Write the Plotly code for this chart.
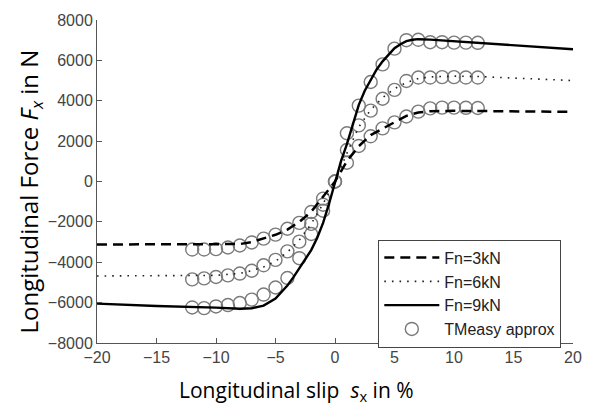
import plotly.graph_objects as go

# ---- data ----
s_circ = [-12, -11, -10, -9, -8, -7, -6, -5, -4, -3, -2, -1, 0,
          1, 2, 3, 4, 5, 6, 7, 8, 9, 10, 11, 12]
tm_3kN = [-3370, -3370, -3350, -3270, -3170, -3020, -2830, -2630, -2340, -2050, -1510, -850, 0,
          930, 1760, 2240, 2630, 2930, 3220, 3460, 3620, 3660, 3660, 3650, 3640]
tm_6kN = [-4850, -4800, -4730, -4650, -4560, -4420, -4150, -3880, -3460, -2980, -2100, -1150, 0,
          1560, 2780, 3510, 4100, 4540, 4980, 5150, 5150, 5170, 5170, 5150, 5150]
tm_9kN = [-6240, -6270, -6190, -6120, -6020, -5850, -5600, -5250, -4780, -3800, -2600, -1450, 0,
          2390, 3760, 4930, 5800, 6580, 7000, 7020, 6900, 6900, 6880, 6880, 6870]

s_3kN = [-20, -10, -8, -7, -6, -5, -4, -3, -2, -1, 0, 1, 2, 3, 4, 5, 6, 7, 8, 10, 12, 15, 20]
f_3kN = [-3120, -3120, -3100, -3000, -2830, -2640, -2380, -2000, -1500, -750, 0,
         1000, 1750, 2300, 2620, 2950, 3250, 3420, 3480, 3500, 3490, 3470, 3450]

s_6kN = [-20, -12, -10, -8, -7, -6, -5, -4, -3, -2, -1, 0, 1, 2, 3, 4, 5, 6, 7, 8, 10, 12, 15, 20]
f_6kN = [-4680, -4680, -4650, -4550, -4420, -4230, -3950, -3500, -2900, -2100, -1100, 0,
         1400, 2700, 3550, 4150, 4600, 4900, 5100, 5180, 5220, 5200, 5120, 5000]

s_9kN = [-20, -15, -10, -8, -7, -6, -5, -4.5, -4, -3.5, -3, -2.5, -2, -1.5, -1, -0.5, 0,
         0.5, 1, 1.5, 2, 2.5, 3, 3.5, 4, 4.5, 5, 5.5, 6, 6.5, 7, 8, 10, 12, 15, 20]
f_9kN = [-6050, -6170, -6250, -6300, -6280, -6150, -5800, -5500, -5150, -4750, -4300, -3850,
         -3400, -2800, -2050, -1100, 0, 1000, 1850, 2850, 3800, 4500, 5050, 5550, 5950, 6300,
         6600, 6800, 6950, 7020, 7050, 7030, 6950, 6870, 6750, 6550]

x_ticks = [-20, -15, -10, -5, 0, 5, 10, 15, 20]
y_ticks = [-8000, -6000, -4000, -2000, 0, 2000, 4000, 6000, 8000]

fig = go.Figure()

circ_style = dict(symbol="circle-open", size=13, color="#7a7a7a", line=dict(width=1.4, color="#7a7a7a"))
for i, ys in enumerate([tm_3kN, tm_6kN, tm_9kN]):
    fig.add_trace(go.Scatter(x=s_circ, y=ys, mode="markers", marker=circ_style,
                             name="TMeasy approx", showlegend=(i == 0), legendrank=4))

fig.add_trace(go.Scatter(x=s_3kN, y=f_3kN, mode="lines", name="Fn=3kN", legendrank=1,
                         line=dict(color="black", width=2.5, dash="10px,6px")))
fig.add_trace(go.Scatter(x=s_6kN, y=f_6kN, mode="lines", name="Fn=6kN", legendrank=2,
                         line=dict(color="#222222", width=1.6, dash="1.6px,6px")))
fig.add_trace(go.Scatter(x=s_9kN, y=f_9kN, mode="lines", name="Fn=9kN", legendrank=3,
                         line=dict(color="black", width=2.4)))

tick_font = dict(family="Liberation Sans, Arial, sans-serif", size=16, color="#444444")

fig.update_xaxes(range=[-20, 20], tickvals=x_ticks, ticks="inside", ticklen=5,
                 tickcolor="#555555", showline=True, linecolor="#555555", linewidth=1,
                 showgrid=False, zeroline=False, tickfont=tick_font, mirror=False)
fig.update_yaxes(range=[-8000, 8000], tickvals=y_ticks, ticks="inside", ticklen=5,
                 tickcolor="#555555", showline=True, linecolor="#555555", linewidth=1,
                 showgrid=False, zeroline=False, tickfont=tick_font, mirror=False)

fig.add_annotation(text="Longitudinal slip  <i>s</i><sub>x</sub> in %", xref="paper", yref="paper",
                   x=0.42, y=-0.15, xanchor="center", yanchor="middle", showarrow=False,
                   font=dict(family="Open Sans, Noto Sans, sans-serif", size=21, color="black"))
fig.add_annotation(text="Longitudinal Force <i>F<sub>x</sub></i> in N", xref="paper", yref="paper",
                   x=-0.14, y=0.47, xanchor="center", yanchor="middle", showarrow=False,
                   textangle=-90,
                   font=dict(family="Open Sans, Noto Sans, sans-serif", size=24, color="black"))

fig.update_layout(
    width=594, height=412,
    margin=dict(l=97, r=18, t=15, b=69),
    plot_bgcolor="white", paper_bgcolor="white",
    legend=dict(x=0.591, y=0.32, xanchor="left", yanchor="top",
                bgcolor="white", bordercolor="#444444", borderwidth=1,
                font=dict(family="Liberation Sans, Arial, sans-serif", size=16, color="#222222"),
                tracegroupgap=0, itemwidth=55),
)

fig.write_html("out.html")
